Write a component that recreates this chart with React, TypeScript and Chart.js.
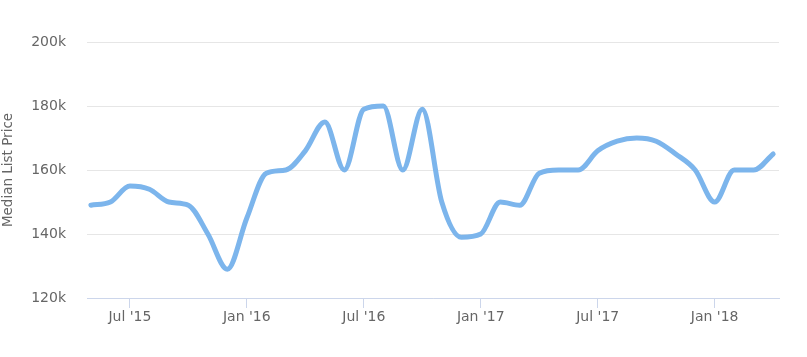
import React, { useEffect, useRef } from "react";
import { Chart, registerables } from "chart.js";

Chart.register(...registerables);

const months = [
  "May '15", "Jun '15", "Jul '15", "Aug '15", "Sep '15", "Oct '15", "Nov '15", "Dec '15",
  "Jan '16", "Feb '16", "Mar '16", "Apr '16", "May '16", "Jun '16", "Jul '16", "Aug '16",
  "Sep '16", "Oct '16", "Nov '16", "Dec '16", "Jan '17", "Feb '17", "Mar '17", "Apr '17",
  "May '17", "Jun '17", "Jul '17", "Aug '17", "Sep '17", "Oct '17", "Nov '17", "Dec '17",
  "Jan '18", "Feb '18", "Mar '18", "Apr '18",
];

const medianListPrice = [
  149000, 150000, 155000, 154000, 150000, 149000, 140000, 129000,
  145000, 159000, 160000, 166000, 175000, 160000, 179000, 180000,
  160000, 179000, 150000, 139000, 140000, 150000, 149000, 159000,
  160000, 160000, 166000, 169000, 170000, 169000, 165000, 160000,
  150000, 160000, 160000, 165000,
];

const xTickLabels = ["Jul '15", "Jan '16", "Jul '16", "Jan '17", "Jul '17", "Jan '18"];
const yTicks = [120000, 140000, 160000, 180000, 200000];

const FONT = "'DejaVu Sans', Verdana, sans-serif";

export default function App() {
  const canvasRef = useRef<HTMLCanvasElement | null>(null);

  useEffect(() => {
    const canvas = canvasRef.current;
    if (!canvas) return;
    const tickIdx = xTickLabels.map((l) => months.indexOf(l));
    const chart = new Chart(canvas, {
      type: "line",
      data: {
        datasets: [
          {
            label: "Median List Price",
            data: medianListPrice.map((v, i) => ({ x: i, y: v })),
            borderColor: "#7cb5ec",
            borderWidth: 5,
            pointRadius: 0,
            fill: false,
            cubicInterpolationMode: "monotone",
            borderCapStyle: "round",
            borderJoinStyle: "round",
          },
        ],
      },
      options: {
        animation: false,
        responsive: false,
        devicePixelRatio: 1,
        layout: { padding: { left: 0, right: 28, top: 42, bottom: 0 } },
        plugins: { legend: { display: false }, tooltip: { enabled: false } },
        scales: {
          x: {
            type: "linear",
            min: -0.2,
            max: months.length - 1 + 0.3,
            afterBuildTicks: (s: any) => {
              s.ticks = tickIdx.map((v) => ({ value: v }));
            },
            afterFit: (s: any) => {
              s.height = 59;
            },
            ticks: {
              autoSkip: false,
              maxRotation: 0,
              padding: 1,
              color: "#666666",
              font: { family: FONT, size: 14 },
              callback: (v: any) => months[Math.round(Number(v))] ?? "",
            },
            grid: {
              drawOnChartArea: false,
              drawTicks: true,
              tickLength: 10,
              color: "#ccd6eb",
              lineWidth: 1,
            },
            border: { display: true, color: "#ccd6eb", width: 1 },
          },
          y: {
            min: yTicks[0],
            max: yTicks[yTicks.length - 1],
            afterBuildTicks: (s: any) => {
              s.ticks = yTicks.map((v) => ({ value: v }));
            },
            afterFit: (s: any) => {
              s.width = 87;
            },
            ticks: {
              padding: 21,
              color: "#666666",
              font: { family: FONT, size: 14 },
              callback: (v: any) => Number(v) / 1000 + "k",
            },
            grid: { color: "#e6e6e6", lineWidth: 1, drawTicks: false },
            border: { display: false },
            title: {
              display: true,
              text: "Median List Price",
              color: "#666666",
              font: { family: FONT, size: 13.5 },
              padding: { top: 0, bottom: 0 },
            },
          },
        },
      },
    });
    return () => chart.destroy();
  }, []);

  return (
    <div style={{ position: "absolute", left: 0, top: 0, width: 807, height: 357, background: "#fff" }}>
      <canvas ref={canvasRef} width={807} height={357} style={{ display: "block", width: 807, height: 357 }} />
    </div>
  );
}
